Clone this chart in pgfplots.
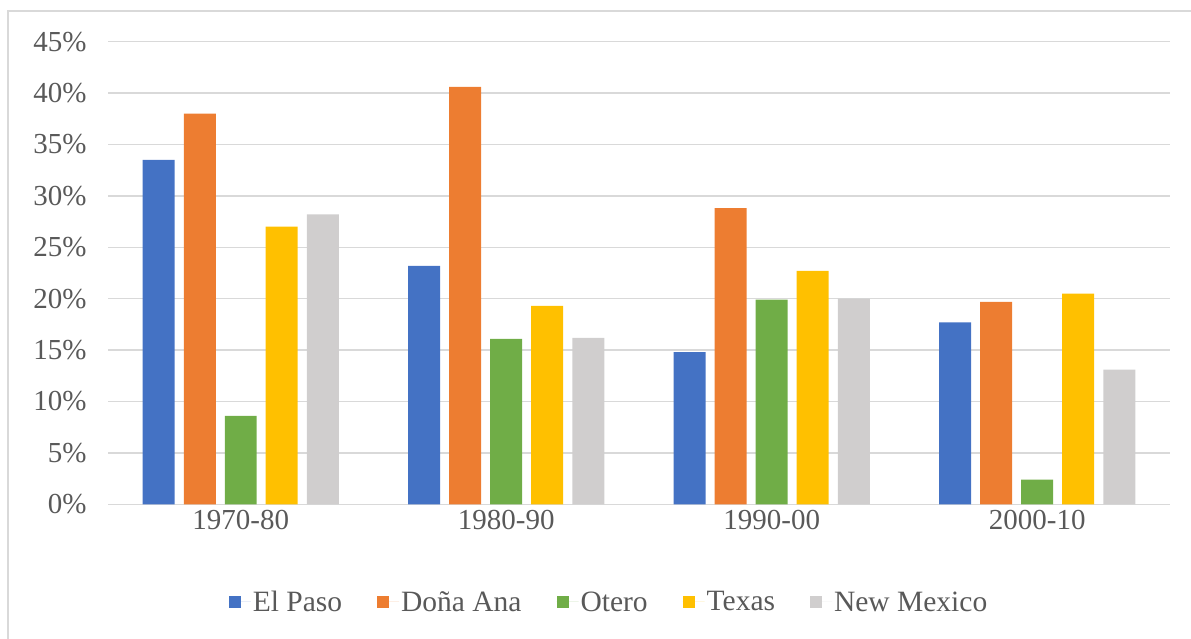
\documentclass[border=0pt]{standalone}
\usepackage{pgfplots}
\pgfplotsset{compat=1.18}
\usepackage{fontspec}
\setmainfont{Liberation Serif}
\definecolor{cBlue}{HTML}{4472C4}
\definecolor{cOrange}{HTML}{ED7D31}
\definecolor{cGreen}{HTML}{70AD47}
\definecolor{cYellow}{HTML}{FFC000}
\definecolor{cGray}{HTML}{D0CECE}
\definecolor{gridGray}{HTML}{D9D9D9}
\definecolor{textGray}{HTML}{595959}
\begin{document}
\begin{tikzpicture}[x=1pt,y=1pt]
\path[use as bounding box] (0,0) rectangle (1191,639);
\draw[draw=gridGray, line width=1.2pt] (8,-5) -- (8,628) -- (1200,628);
\begin{axis}[
  at={(108pt,134.7pt)}, anchor=south west,
  scale only axis, width=1062pt, height=462.6pt,
  xmin=-0.5, xmax=3.5, ymin=0, ymax=45,
  axis line style={draw=none},
  major tick length=0pt,
  ytick={0,5,...,45},
  yticklabels={0\%,5\%,10\%,15\%,20\%,25\%,30\%,35\%,40\%,45\%},
  xtick={0,1,2,3},
  xticklabels={1970-80,1980-90,1990-00,2000-10},
  ymajorgrids,
  major grid style={draw=gridGray, line width=1.3pt},
  tick label style={font=\fontsize{29}{32}\selectfont, text=textGray},
  yticklabel style={xshift=-18pt},
  xticklabel style={yshift=-2pt},
  ybar, bar width=0.1205,
  legend style={at={(0.4718,-0.2112)}, anchor=center, draw=none, fill=none,
    font=\fontsize{29.5}{32}\selectfont, text=textGray,
    legend columns=-1,
    /tikz/every even column/.append style={column sep=33pt}},
  legend image code/.code={\fill[#1] (0pt,-6pt) rectangle (12pt,6pt);\path (0pt,0pt) -- (22pt,0pt);},
]
\addplot[fill=cBlue, draw=none, bar shift=-0.309] coordinates {(0,33.5) (1,23.2) (2,14.8) (3,17.7)};
\addplot[fill=cOrange, draw=none, bar shift=-0.1544] coordinates {(0,38.0) (1,40.6) (2,28.8) (3,19.7)};
\addplot[fill=cGreen, draw=none, bar shift=0] coordinates {(0,8.6) (1,16.1) (2,19.9) (3,2.4)};
\addplot[fill=cYellow, draw=none, bar shift=0.1544] coordinates {(0,27.0) (1,19.3) (2,22.7) (3,20.5)};
\addplot[fill=cGray, draw=none, bar shift=0.309] coordinates {(0,28.2) (1,16.2) (2,20.0) (3,13.1)};
\legend{El Paso, Doña Ana, Otero, Texas, New Mexico}
\end{axis}
\end{tikzpicture}
\end{document}
